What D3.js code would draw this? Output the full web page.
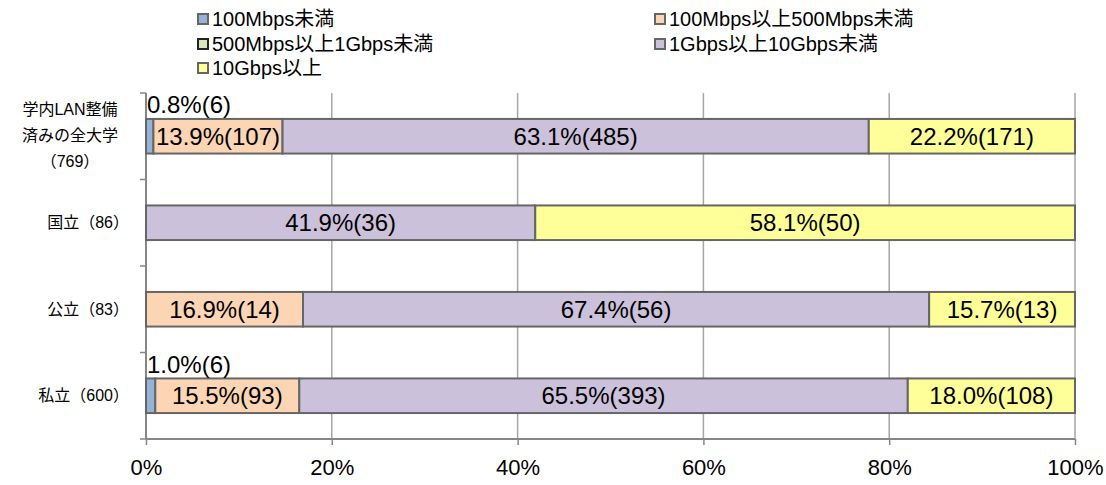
<!DOCTYPE html>
<html><head><meta charset="utf-8">
<script src="https://cdn.jsdelivr.net/npm/d3@7"></script>
<style>body{margin:0;background:#fff}svg{display:block}</style>
</head><body>
<svg id="c" width="1106" height="485"></svg>
<script>
const categories = ["学内LAN整備済みの全大学（769）", "国立（86）", "公立（83）", "私立（600）"];
const categoryLines = [["学内LAN整備", "済みの全大学", "（769）"], ["国立（86）"], ["公立（83）"], ["私立（600）"]];
const seriesNames = ["100Mbps未満", "100Mbps以上500Mbps未満", "500Mbps以上1Gbps未満", "1Gbps以上10Gbps未満", "10Gbps以上"];
const pctLT100M = [0.8, 0, 0, 1.0];
const pct100to500M = [13.9, 0, 16.9, 15.5];
const pct500Mto1G = [0, 0, 0, 0];
const pct1Gto10G = [63.1, 41.9, 67.4, 65.5];
const pctGE10G = [22.2, 58.1, 15.7, 18.0];
const cntLT100M = [6, 0, 0, 6];
const cnt100to500M = [107, 0, 14, 93];
const cnt500Mto1G = [0, 0, 0, 0];
const cnt1Gto10G = [485, 36, 56, 393];
const cntGE10G = [171, 50, 13, 108];
const tickValues = [0, 20, 40, 60, 80, 100];

const colors = ["#95B3D7", "#FCD5B5", "#D7E4BD", "#CCC1DA", "#FFFF99"];
const pcts = [pctLT100M, pct100to500M, pct500Mto1G, pct1Gto10G, pctGE10G];
const cnts = [cntLT100M, cnt100to500M, cnt500Mto1G, cnt1Gto10G, cntGE10G];

const svg = d3.select("#c");
const font = "'Liberation Sans','Noto Sans CJK JP',sans-serif";
const x = d3.scaleLinear().domain([0, 100]).range([146, 1075]);
const y = d3.scaleBand().domain(categories).range([93, 439]).paddingInner(0.6).paddingOuter(0.3);

// gridlines
svg.append("g").selectAll("line").data(tickValues.filter(t => t > 0)).join("line")
  .attr("x1", d => x(d)).attr("x2", d => x(d)).attr("y1", 93).attr("y2", 439)
  .attr("stroke", "#a6a6a6").attr("stroke-width", 1.5);

// x axis
const xAxis = d3.axisBottom(x).tickValues(tickValues).tickFormat(d => d + "%").tickSize(6).tickPadding(14);
const gx = svg.append("g").attr("transform", "translate(0,439)").call(xAxis);
gx.select(".domain").attr("stroke", "#868686").attr("stroke-width", 2).attr("d", "M146,0H1075");
gx.selectAll(".tick line").attr("stroke", "#868686").attr("stroke-width", 1.5);
gx.selectAll(".tick text").attr("font-family", font).attr("font-size", 22).attr("fill", "#000");

// y axis line + ticks
const bounds = [93].concat(categories.map(c => y(c) - y.step() * y.paddingInner() / 2 + y.step()));
svg.append("line").attr("x1", 146).attr("x2", 146).attr("y1", 93).attr("y2", 439)
  .attr("stroke", "#868686").attr("stroke-width", 2);
svg.append("g").selectAll("line").data(bounds).join("line")
  .attr("x1", 140).attr("x2", 146).attr("y1", d => d).attr("y2", d => d)
  .attr("stroke", "#868686").attr("stroke-width", 1.5);

// stacked bars
const segs = [];
categories.forEach((c, i) => {
  let acc = 0;
  pcts.forEach((arr, s) => {
    const v = arr[i];
    if (v > 0) segs.push({c, s, x0: acc, x1: acc + v, v, n: cnts[s][i]});
    acc += v;
  });
});
svg.append("g").selectAll("rect").data(segs).join("rect")
  .attr("x", d => x(d.x0)).attr("width", d => x(d.x1) - x(d.x0))
  .attr("y", d => y(d.c)).attr("height", y.bandwidth())
  .attr("fill", d => colors[d.s]).attr("stroke", "#666").attr("stroke-width", 2);

svg.append("g").selectAll("text").data(segs).join("text")
  .attr("x", d => d.v < 5 ? x(d.x0) + 1 : (x(d.x0) + x(d.x1)) / 2)
  .attr("y", d => d.v < 5 ? y(d.c) - 14 : y(d.c) + y.bandwidth() / 2)
  .attr("text-anchor", d => d.v < 5 ? "start" : "middle")
  .attr("dominant-baseline", "central")
  .attr("font-family", font).attr("font-size", 24).attr("fill", "#000")
  .text(d => d.v.toFixed(1) + "%(" + d.n + ")");

// category labels
categories.forEach((c, i) => {
  const lines = categoryLines[i];
  const cy = y(c) + y.bandwidth() / 2;
  const t = svg.append("text").attr("font-family", font).attr("font-size", 16).attr("fill", "#000");
  if (lines.length === 1) {
    t.attr("x", 129).attr("y", cy).attr("text-anchor", "end").attr("dominant-baseline", "central").text(lines[0]);
  } else {
    lines.forEach((l, k) => {
      t.append("tspan").attr("x", 70).attr("y", cy - 27 + k * 26).attr("text-anchor", "middle")
        .attr("dominant-baseline", "central").text(l);
    });
  }
});

// legend
const legPos = [[198, 19], [655, 19], [198, 44], [655, 44], [198, 68]];
const leg = svg.append("g").selectAll("g").data(seriesNames).join("g")
  .attr("transform", (d, i) => `translate(${legPos[i][0]},${legPos[i][1]})`);
leg.append("rect").attr("x", 0).attr("y", -5).attr("width", 10).attr("height", 10)
  .attr("fill", (d, i) => colors[i]).attr("stroke", (d, i) => i === 2 ? "#222" : "#666").attr("stroke-width", 2);
leg.append("text").attr("x", 14).attr("y", 0).attr("dominant-baseline", "central")
  .attr("font-family", font).attr("font-size", 20).attr("fill", "#000").text(d => d);
</script>
</body></html>
